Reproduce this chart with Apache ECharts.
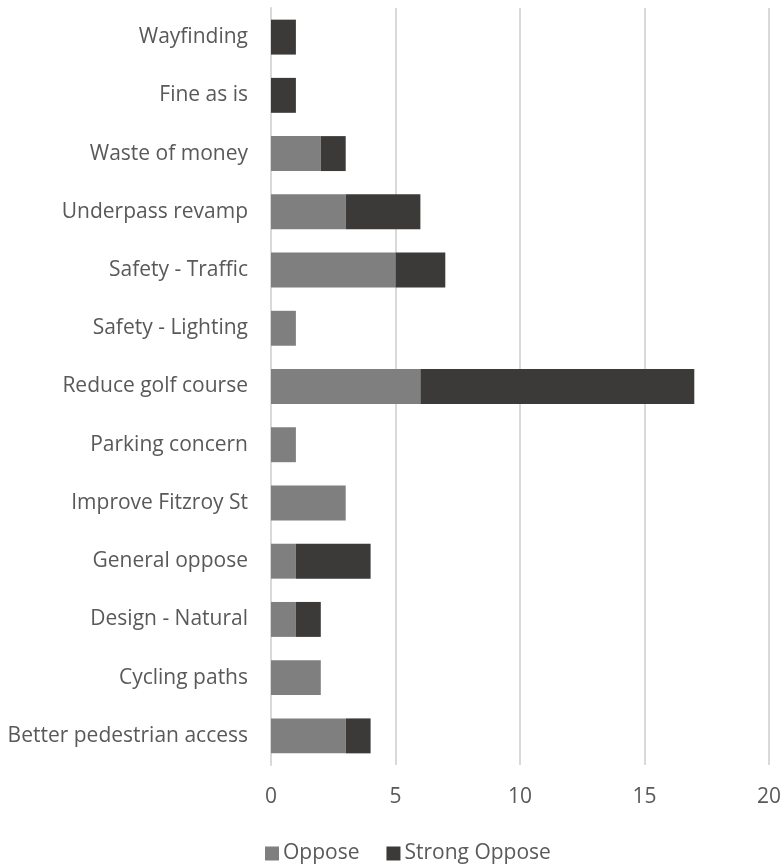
<!DOCTYPE html>
<html><head><meta charset="utf-8">
<script src="https://cdn.jsdelivr.net/npm/echarts@6/dist/echarts.min.js"></script>
<style>html,body{margin:0;padding:0;background:#fff}#c{width:784px;height:867px}</style>
</head><body><div id="c"></div>
<script>
const categories = ["Better pedestrian access","Cycling paths","Design - Natural","General oppose","Improve Fitzroy St","Parking concern","Reduce golf course","Safety - Lighting","Safety - Traffic","Underpass revamp","Waste of money","Fine as is","Wayfinding"];
const oppose =       [3, 2, 1, 1, 3, 1, 6, 1, 5, 3, 2, 0, 0];
const strongOppose = [1, 0, 1, 3, 0, 0, 11, 0, 2, 3, 1, 1, 1];
const xTicks = [0, 5, 10, 15, 20];

const FONT = "Open Sans";
const chart = echarts.init(document.getElementById('c'), null, {renderer:'canvas'});
chart.setOption({
  animation: false,
  textStyle: {fontFamily: FONT},
  grid: {left: 271, right: 13, top: 8, bottom: 102},
  legend: {
    top: 838, left: 260,
    itemWidth: 14, itemHeight: 14, itemGap: 27,
    icon: 'rect',
    textStyle: {color: '#595959', fontSize: 21, fontFamily: FONT, padding: [0,0,0,-1]},
    data: ['Oppose', 'Strong Oppose']
  },
  xAxis: {
    type: 'value', min: xTicks[0], max: xTicks[xTicks.length-1], interval: 5,
    axisLine: {show: false}, axisTick: {show: false},
    splitLine: {lineStyle: {color: '#d9d9d9', width: 2}},
    axisLabel: {color: '#595959', fontSize: 21, margin: 22, fontFamily: FONT}
  },
  yAxis: {
    type: 'category', data: categories,
    axisLine: {show: true, lineStyle: {color: '#d9d9d9', width: 2}},
    axisTick: {show: false},
    axisLabel: {color: '#595959', fontSize: 21, margin: 23, fontFamily: FONT}
  },
  series: [
    {name: 'Oppose', type: 'bar', stack: 's', data: oppose, barCategoryGap: '40%', itemStyle: {color: '#7f7f7f'}},
    {name: 'Strong Oppose', type: 'bar', stack: 's', data: strongOppose, barCategoryGap: '40%', itemStyle: {color: '#3b3a38'}}
  ]
});
</script></body></html>
